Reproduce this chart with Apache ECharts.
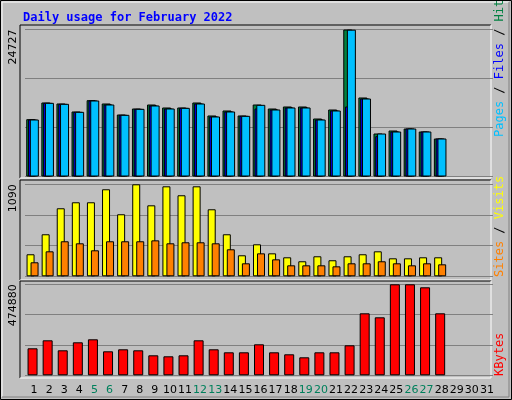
<!DOCTYPE html>
<html>
<head>
<meta charset="utf-8">
<script src="https://cdn.jsdelivr.net/npm/echarts@6/dist/echarts.min.js"></script>
<style>
html,body{margin:0;padding:0;background:#c0c0c0}
#chart{width:512px;height:400px}
</style>
</head>
<body>
<div id="chart"></div>
<script>
// 数据
const days = Array.from({ length: 31 }, (_, i) => String(i + 1))
const weekends = ['5', '6', '12', '13', '19', '20', '26', '27']
const hits = [9644, 12448, 12280, 10934, 12840, 12280, 10429, 11438, 12111, 11607, 11607, 12448, 10261, 11102, 10261, 12111, 11438, 11775, 11775, 9756, 11270, 24727, 13289, 7233, 7738, 8074, 7569, 6392]
const files = [9588, 12391, 12223, 10878, 12784, 12111, 10373, 11382, 11943, 11438, 11550, 12279, 10093, 10934, 10205, 11438, 11270, 11607, 11607, 9588, 11102, 11775, 13120, 6784, 7569, 8074, 7569, 6392]
const pages = [9588, 12391, 12223, 10878, 12784, 12111, 10373, 11382, 11943, 11438, 11550, 12279, 10093, 10934, 10205, 12055, 11270, 11607, 11607, 9588, 11102, 24700, 13120, 7233, 7569, 8074, 7569, 6392]
const visits = [261, 498, 806, 877, 877, 1031, 735, 1090, 841, 1066, 960, 1066, 794, 498, 249, 379, 272, 225, 178, 237, 190, 237, 261, 296, 213, 213, 225, 225]
const sites = [166, 296, 415, 391, 308, 415, 415, 415, 426, 391, 403, 403, 391, 320, 154, 272, 201, 130, 130, 130, 118, 154, 154, 178, 154, 130, 154, 142]
const kbytes = [140900, 182650, 130460, 172210, 187870, 125240, 135680, 130460, 104370, 99150, 104370, 182650, 135680, 120030, 120030, 161770, 120030, 109590, 93930, 120030, 120030, 156550, 323550, 302670, 474880, 474880, 459230, 323550]
const maxes = [24727, 1090, 474880]

const font = 'DejaVu Sans Mono'
const grids = [
  { left: 25, width: 468, top: 29.5, height: 147 },
  { left: 25, width: 468, top: 184.3, height: 92 },
  { left: 25, width: 468, top: 284.3, height: 91 }
]

function xAxis(i) {
  return {
    type: 'category', gridIndex: i, data: days,
    axisLine: { show: false }, axisTick: { show: false },
    axisLabel: i === 2 ? {
      show: true, interval: 0, margin: 9, fontFamily: 'DejaVu Sans', fontSize: 11,
      padding: [0, 0, 0, 3],
      color: (v) => (weekends.includes(v) ? '#00805c' : '#000')
    } : { show: false }
  }
}
function yAxis(i) {
  const m = maxes[i]
  return {
    type: 'value', gridIndex: i, min: 0, max: m, interval: m / 3,
    axisLine: { show: false }, axisTick: { show: false },
    splitLine: { show: true, lineStyle: { color: '#808080', width: 1 } },
    axisLabel: {
      rotate: 90, margin: 6, align: 'right', fontFamily: 'DejaVu Sans', fontSize: 11, color: '#000',
      formatter: (v) => (Math.abs(v - m) < 1e-6 ? String(m) : '')
    }
  }
}
function bar(name, data, color, gi, w, gap) {
  return {
    name, type: 'bar', data, xAxisIndex: gi, yAxisIndex: gi, barWidth: w, barGap: gap,
    itemStyle: { color, borderColor: '#000', borderWidth: 1 }, animation: false, silent: true
  }
}
function vtext(x, y, parts) {
  const rich = {}
  let s = ''
  parts.forEach(([t, c], k) => { rich['p' + k] = { fill: c, fontFamily: font, fontSize: 12 }; s += '{p' + k + '|' + t + '}' })
  return { type: 'text', x, y, rotation: Math.PI / 2, style: { text: s, rich, align: 'left', verticalAlign: 'middle' } }
}
function frame(y1, y2) {
  return [
    { type: 'line', shape: { x1: 20, y1, x2: 491, y2: y1 }, style: { stroke: '#000', lineWidth: 1 } },
    { type: 'line', shape: { x1: 20, y1, x2: 20, y2 }, style: { stroke: '#000', lineWidth: 1 } },
    { type: 'line', shape: { x1: 20, y1: y2, x2: 491, y2 }, style: { stroke: '#fff', lineWidth: 1 } },
    { type: 'line', shape: { x1: 491, y1, x2: 491, y2 }, style: { stroke: '#fff', lineWidth: 1 } }
  ]
}

const chart = echarts.init(document.getElementById('chart'))
chart.setOption({
  backgroundColor: '#c0c0c0',
  animation: false,
  title: { text: 'Daily usage for February 2022', left: 18, top: 7, textStyle: { color: '#0000ff', fontFamily: font, fontSize: 12, fontWeight: 'bold' } },
  grid: grids,
  xAxis: [xAxis(0), xAxis(1), xAxis(2)],
  yAxis: [yAxis(0), yAxis(1), yAxis(2)],
  series: [
    bar('Hits', hits, '#008040', 0, 9, '-80%'),
    bar('Files', files, '#0000ff', 0, 9, '-80%'),
    bar('Pages', pages, '#00c0ff', 0, 9, '-80%'),
    bar('Visits', visits, '#ffff00', 1, 8, '-50%'),
    bar('Sites', sites, '#ff8000', 1, 8, '-50%'),
    bar('KBytes', kbytes, '#ff0000', 2, 10, '0%')
  ],
  graphic: [
    { type: 'rect', shape: { x: 0.5, y: 0.5, width: 511, height: 399 }, style: { fill: 'none', stroke: '#000', lineWidth: 1 } },
    { type: 'polyline', shape: { points: [[2, 397], [2, 2], [509, 2]] }, style: { fill: 'none', stroke: '#fff', lineWidth: 1 } },
    { type: 'polyline', shape: { points: [[2, 397], [509, 397], [509, 2]] }, style: { fill: 'none', stroke: '#808080', lineWidth: 1 } },
    ...frame(25, 178), ...frame(180, 280), ...frame(281, 378),
    vtext(500, 137, [['Pages', '#00c0ff'], [' / ', '#000'], ['Files', '#0000ff'], [' / ', '#000'], ['Hits', '#008040']]),
    vtext(500, 277, [['Sites', '#ff8000'], [' / ', '#000'], ['Visits', '#ffff00']]),
    vtext(500, 376, [['KBytes', '#ff0000']])
  ]
})
</script>
</body>
</html>
